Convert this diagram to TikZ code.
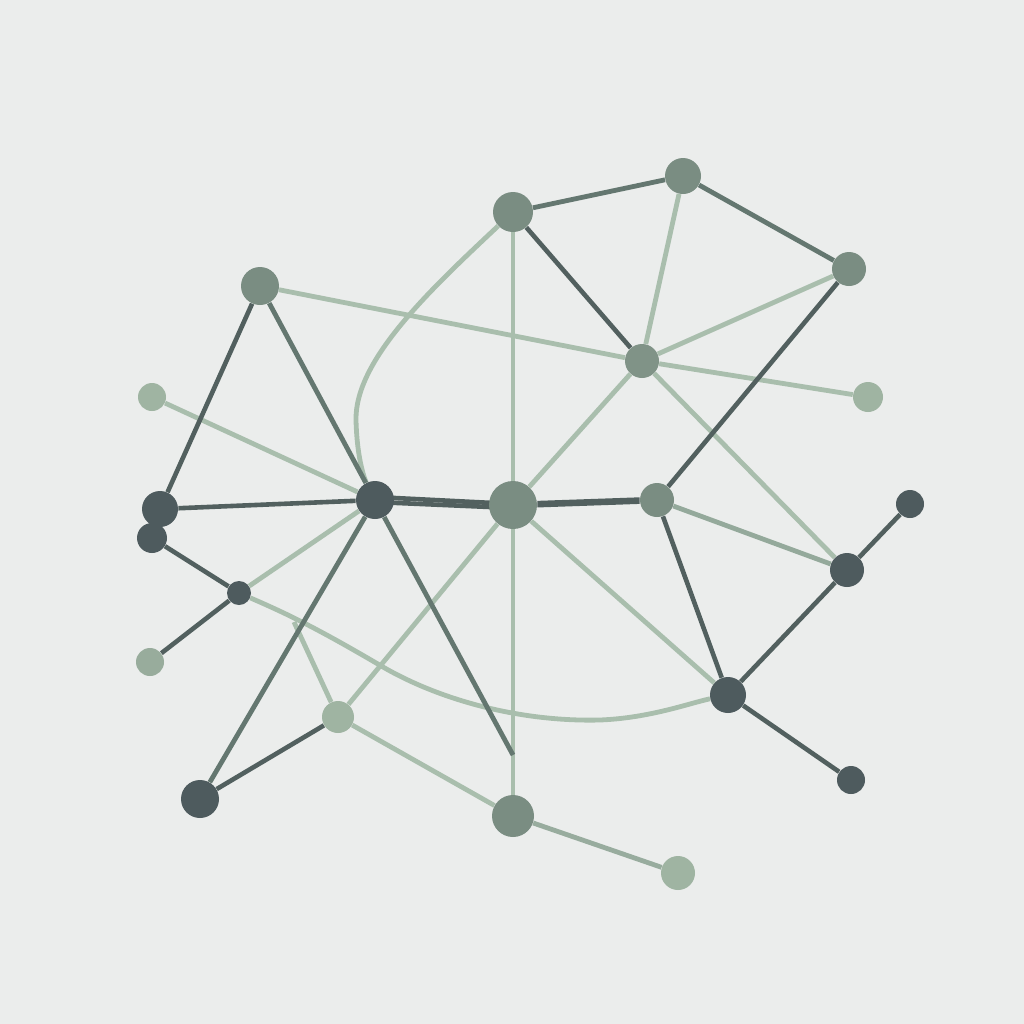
\documentclass[tikz,border=0pt]{standalone}
\pgfdeclarelayer{bg}
\pgfdeclarelayer{edges}
\pgfsetlayers{bg,edges,main}
\definecolor{bgc}{HTML}{EBEDEC}
\definecolor{ndark}{HTML}{4E5B5E}
\definecolor{nmid}{HTML}{7A8D82}
\definecolor{nlight}{HTML}{9FB4A2}
\definecolor{ldark}{HTML}{52605F}
\definecolor{lmid}{HTML}{647770}
\definecolor{llight}{HTML}{A9BEAD}
\tikzset{
  dot/.style={circle, inner sep=0pt, draw=none},
  dk/.style={dot, fill=ndark},
  md/.style={dot, fill=nmid},
  lt/.style={dot, fill=nlight},
  edark/.style={draw=ldark, line width=2.3pt},
  emid/.style={draw=lmid, line width=2.4pt},
  elight/.style={draw=llight, line width=2.4pt},
}
\begin{document}
\begin{tikzpicture}[x=0.5pt,y=-0.5pt]
\begin{pgfonlayer}{bg}
\fill[bgc] (0,0) rectangle (1024,1024);
\end{pgfonlayer}
\useasboundingbox (0,0) rectangle (1024,1024);
% nodes
\node[md, minimum size=20pt] (A) at (513,212) {};
\node[md, minimum size=18pt] (B) at (683,176) {};
\node[md, minimum size=17pt] (C) at (849,269) {};
\node[md, minimum size=19pt] (D) at (260,286) {};
\node[md, minimum size=17pt, fill=nmid!85!nlight] (E) at (642,361) {};
\node[lt, minimum size=14pt] (F) at (152,397) {};
\node[lt, minimum size=15pt] (G) at (868,397) {};
\node[dk, minimum size=18pt] (H) at (160,509) {};
\node[dk, minimum size=15pt] (I) at (152,538) {};
\node[dk, minimum size=19pt] (J) at (375,500) {};
\node[md, minimum size=24pt] (K) at (513,505) {};
\node[md, minimum size=17pt] (L) at (657,500) {};
\node[dk, minimum size=14pt] (M) at (910,504) {};
\node[dk, minimum size=17pt] (N) at (847,570) {};
\node[dk, minimum size=12pt] (O) at (239,593) {};
\node[lt, minimum size=14pt, fill=nlight!80!nmid] (P) at (150,662) {};
\node[lt, minimum size=16pt] (Q) at (338,717) {};
\node[dk, minimum size=18pt] (R) at (728,695) {};
\node[dk, minimum size=19pt] (S) at (200,799) {};
\node[md, minimum size=21pt] (T) at (513,816) {};
\node[dk, minimum size=14pt] (U) at (851,780) {};
\node[lt, minimum size=17pt] (V) at (678,873) {};
\coordinate (jt) at (513,755);
\coordinate (oq) at (294,622);
\begin{pgfonlayer}{edges}
% light edges
\draw[elight] (B) -- (E);
\draw[elight] (C) -- (E);
\draw[elight] (D) -- (E);
\draw[elight] (E) -- (G);
\draw[elight] (E) -- (K);
\draw[elight] (E) -- (N);
\draw[elight] (A) -- (K);
\draw[elight] (K) -- (T);
\draw[elight] (K) -- (Q);
\draw[elight] (K) -- (R);
\draw[elight] (F) -- (J);
\draw[elight] (J) -- (O);
\draw[elight] (Q) -- (T);
\draw[elight] (oq) -- (Q);
\draw[elight] (A) .. controls (430,290) and (355,360) .. (356,420) .. controls (357,460) and (365,480) .. (J);
\draw[elight] (O) .. controls (290,615) and (320,630) .. (383,667) .. controls (440,700) and (520,722) .. (600,720) .. controls (650,718) and (690,703) .. (R);
\draw[elight, draw=llight!70!lmid] (L) -- (N);
\draw[elight, draw=llight!75!lmid] (T) -- (V);
% mid edges
\draw[emid] (A) -- (B);
\draw[emid] (B) -- (C);
\draw[emid] (D) -- (J);
\draw[emid] (J) -- (jt);
\draw[emid] (J) -- (S);
% dark edges
\draw[edark] (A) -- (E);
\draw[edark] (C) -- (L);
\draw[edark] (D) -- (H);
\draw[edark] (H) -- (J);
\draw[edark] ([yshift=1.5pt]J.center) -- ([yshift=0.5pt]K.center);
\draw[edark] ([yshift=-1pt]J.center) -- ([yshift=-1.5pt]K.center);
\draw[edark, line width=3.3pt] (K) -- (L);
\draw[edark] (I) -- (O);
\draw[edark] (O) -- (P);
\draw[edark] (Q) -- (S);
\draw[edark] (L) -- (R);
\draw[edark] (N) -- (R);
\draw[edark] (M) -- (N);
\draw[edark] (R) -- (U);
\end{pgfonlayer}
\end{tikzpicture}
\end{document}
